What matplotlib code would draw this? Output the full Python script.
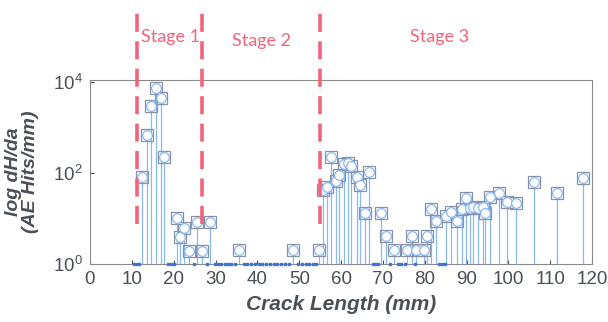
import matplotlib.pyplot as plt
import matplotlib.transforms as mtransforms

# crack length (mm) and AE hit rate (hits/mm)
crack_mm = [12.4, 13.7, 14.5, 15.8, 16.9, 17.7, 20.7, 21.5, 22.5, 23.7, 25.5,
            26.8, 28.7, 35.6, 48.6, 54.8, 55.7, 56.6, 57.7, 58.9, 59.6, 60.6,
            61.6, 62.4, 63.8, 64.5, 65.6, 66.7, 69.6, 70.8, 72.7, 75.7, 76.9,
            77.9, 79.7, 80.5, 81.4, 82.6, 85.1, 86.2, 87.6, 88.9, 89.9, 90.8,
            91.6, 92.8, 93.9, 94.4, 95.5, 97.8, 99.6, 101.8, 106.0, 111.7, 117.8]
hits = [83, 680, 2960, 7250, 4370, 220, 10.4, 4.0, 6.3, 1.95, 8.2,
        1.95, 8.2, 2.0, 2.0, 2.0, 42, 50, 220, 67, 88, 160,
        168, 142, 80, 54, 13.4, 104, 13.4, 4.2, 2.0, 2.0, 4.2,
        2.0, 2.0, 4.2, 15.9, 8.8, 11.2, 14, 8.6, 16, 27.8, 16.7,
        18, 16.7, 18, 13.4, 30, 37, 22.7, 21.6, 64, 37, 76]

# crack lengths with no hits (drawn on the baseline)
zero_mm = [10.6, 11.2, 11.8, 18.6, 19.3, 20.0, 24.9, 28.0,
           29.8, 30.6, 31.4, 32.2, 33.0, 33.8, 34.6,
           36.7, 37.6, 38.5, 39.4, 40.3, 41.2, 42.1, 43.0, 43.9, 44.8, 45.7, 46.6, 47.5,
           49.7, 50.6, 51.5, 52.4, 53.3, 54.1,
           67.6, 68.2, 68.8, 71.8, 73.7, 74.4, 75.2, 77.7, 83.5, 84.2, 84.9]

stage_bounds = [11.3, 26.8, 55.0]
stage_labels = ["Stage 1", "Stage 2", "Stage 3"]
stage_label_x = [19.2, 41.0, 83.5]

grey = "#4a4f58"
red = "#f2647c"
plt.rcParams["font.family"] = "Liberation Sans"

fig = plt.figure(figsize=(6.08, 3.22), dpi=100)
ax = fig.add_axes([0.148, 0.180, 0.826, 0.572])
ax.set_yscale("log")

ax.vlines(crack_mm, 1, hits, color="#8ab8f2", lw=0.9, zorder=2)
ax.plot(crack_mm, hits, ls="none", marker="s", ms=9, mfc="none",
        mec="#8892a4", mew=0.9, zorder=3)
ax.plot(crack_mm, hits, ls="none", marker="o", ms=7, mfc="white",
        mec="#8ab8f2", mew=0.9, zorder=4)
ax.plot(zero_mm, [1] * len(zero_mm), ls="none", marker="s", ms=2.0,
        color="#3d72d6", clip_on=False, zorder=5)

ax.set_xlim(0, 120)
ax.set_ylim(1, 1.107e4)
ax.set_xticks(range(0, 121, 10))
ax.set_yticks([1, 1e2, 1e4])
ax.minorticks_off()
ax.tick_params(direction="in", colors=grey, labelsize=13.5, length=3, pad=5)
for s in ax.spines.values():
    s.set_color("#8a8a8a")
    s.set_linewidth(0.8)

ax.set_xlabel("Crack Length (mm)", fontsize=15, style="italic",
              fontweight="bold", color=grey, labelpad=5)
ax.set_ylabel("log dH/da\n(AE Hits/mm)", fontsize=14, style="italic",
              fontweight="bold", color=grey, labelpad=10, linespacing=1.0)

# stage boundaries reach above the axes
trans = mtransforms.blended_transform_factory(ax.transData, ax.transAxes)
for xb in stage_bounds:
    ax.plot([xb, xb], [0.217, 1.364], transform=trans, color=red, lw=2.6,
            dashes=(5, 2.6), clip_on=False, zorder=6)
for lab, xl, yl in zip(stage_labels, stage_label_x, [1.234, 1.212, 1.234]):
    ax.text(xl, yl, lab, transform=trans, color=red, fontsize=13,
            family="Lato", ha="center", va="center", clip_on=False)

fig.savefig("out.png", dpi=100)
